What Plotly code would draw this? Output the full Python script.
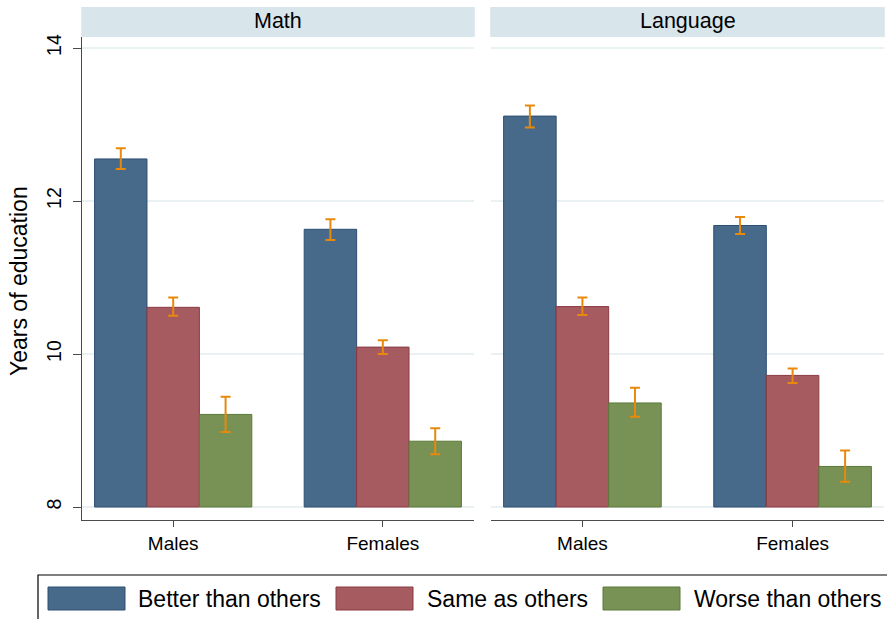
import plotly.graph_objects as go

# Mean years of education by self-rated ability, with 95% confidence intervals
groups = ["Males", "Females"]
subjects = ["Math", "Language"]
series = ["Better than others", "Same as others", "Worse than others"]

math_mean = {
    "Better than others": [12.55, 11.63],
    "Same as others": [10.61, 10.09],
    "Worse than others": [9.21, 8.86],
}
math_lo = {
    "Better than others": [12.42, 11.49],
    "Same as others": [10.50, 10.00],
    "Worse than others": [8.98, 8.69],
}
math_hi = {
    "Better than others": [12.69, 11.76],
    "Same as others": [10.74, 10.18],
    "Worse than others": [9.44, 9.03],
}

lang_mean = {
    "Better than others": [13.11, 11.68],
    "Same as others": [10.62, 9.72],
    "Worse than others": [9.36, 8.53],
}
lang_lo = {
    "Better than others": [12.96, 11.57],
    "Same as others": [10.51, 9.62],
    "Worse than others": [9.18, 8.33],
}
lang_hi = {
    "Better than others": [13.25, 11.79],
    "Same as others": [10.74, 9.81],
    "Worse than others": [9.56, 8.74],
}

y_ticks = [8, 10, 12, 14]
y_base = 8

# ---- styling ----
W, H = 887, 619
FONT = "Liberation Sans, Arial, Helvetica, sans-serif"
fills = {"Better than others": "#476a8b", "Same as others": "#a65b61", "Worse than others": "#789255"}
edges = {"Better than others": "#2c4e72", "Same as others": "#8a3a43", "Worse than others": "#5b7a3a"}
ci_color = "#e8890c"
strip_color = "#d8e5eb"
grid_color = "#e9f1f3"
axis_color = "#4a4a4a"


def px_x(v):
    return v / W


def px_y(v):
    return 1 - v / H


panels = [
    ("x", "y", math_mean, math_lo, math_hi),
    ("x2", "y2", lang_mean, lang_lo, lang_hi),
]

fig = go.Figure()
for xa, ya, mean, lo, hi in panels:
    for s in series:
        m = mean[s]
        fig.add_trace(go.Bar(
            x=groups,
            y=[v - y_base for v in m],
            base=y_base,
            name=s,
            showlegend=False,
            xaxis=xa, yaxis=ya,
            marker=dict(color=fills[s], line=dict(color=edges[s], width=1)),
            error_y=dict(
                type="data", symmetric=False,
                array=[h - v for h, v in zip(hi[s], m)],
                arrayminus=[v - l for v, l in zip(m, lo[s])],
                color=ci_color, thickness=2, width=5,
            ),
        ))

y_dom = [px_y(520), px_y(37)]
y_rng = [7.83, 14.144]
x_rng = [-0.435, 1.435]

common_x = dict(
    type="category", range=x_rng, showline=True, linecolor=axis_color, linewidth=1.3,
    ticks="outside", ticklen=6, tickcolor=axis_color, tickwidth=1.3,
    tickfont=dict(family=FONT, size=19, color="black"), showgrid=False,
    zeroline=False, automargin=False, fixedrange=True,
)
common_y = dict(
    range=y_rng, domain=y_dom, tickvals=y_ticks, showgrid=True, gridcolor=grid_color,
    gridwidth=2, zeroline=False, automargin=False, fixedrange=True,
)

fig.update_layout(
    width=W, height=H,
    margin=dict(l=0, r=0, t=0, b=0),
    paper_bgcolor="white", plot_bgcolor="white",
    barmode="group", bargap=0.25, bargroupgap=0,
    xaxis=dict(domain=[px_x(82), px_x(474)], anchor="y", **common_x),
    xaxis2=dict(domain=[px_x(491), px_x(884)], anchor="y2", **common_x),
    yaxis=dict(
        anchor="x", showline=True, linecolor=axis_color, linewidth=1.3,
        ticks="outside", ticklen=8, tickcolor=axis_color, tickwidth=1.3,
        tickangle=-90, ticklabelstandoff=4,
        tickfont=dict(family=FONT, size=19.5, color="black"),
        **common_y,
    ),
    yaxis2=dict(anchor="x2", matches="y", showline=False, showticklabels=False, ticks="", **common_y),
    showlegend=False,
)

shapes = []
annotations = []

# panel header strips
for xa, title in zip(["x", "x2"], subjects):
    shapes.append(dict(type="rect", xref=f"{xa} domain", yref="paper",
                       x0=-0.002, x1=1.002, y0=px_y(37), y1=px_y(7),
                       fillcolor=strip_color, line=dict(width=0), layer="below"))
    annotations.append(dict(xref=f"{xa} domain", yref="paper", x=0.5, y=px_y(21),
                            text=title, showarrow=False, xanchor="center", yanchor="middle",
                            font=dict(family=FONT, size=21.5, color="black")))

# y-axis title
annotations.append(dict(xref="paper", yref="paper", x=px_x(19), y=px_y(281),
                        text="Years of education", textangle=-90, showarrow=False,
                        xanchor="center", yanchor="middle",
                        font=dict(family=FONT, size=23, color="black")))

# legend box with wide colour keys
shapes.append(dict(type="rect", xref="paper", yref="paper",
                   x0=px_x(38), x1=px_x(900), y0=px_y(630), y1=px_y(575),
                   fillcolor="white", line=dict(color="black", width=1.2)))
key_left = [48, 336, 603]
text_left = [136, 425, 692]
for s, kx, tx in zip(series, key_left, text_left):
    shapes.append(dict(type="rect", xref="paper", yref="paper",
                       x0=px_x(kx), x1=px_x(kx + 77), y0=px_y(610), y1=px_y(587),
                       fillcolor=fills[s], line=dict(color=edges[s], width=1)))
    annotations.append(dict(xref="paper", yref="paper", x=px_x(tx), y=px_y(599),
                            text=s, showarrow=False, xanchor="left", yanchor="middle",
                            font=dict(family=FONT, size=23, color="black")))

fig.update_layout(shapes=shapes, annotations=annotations)

fig.write_html("out.html")
